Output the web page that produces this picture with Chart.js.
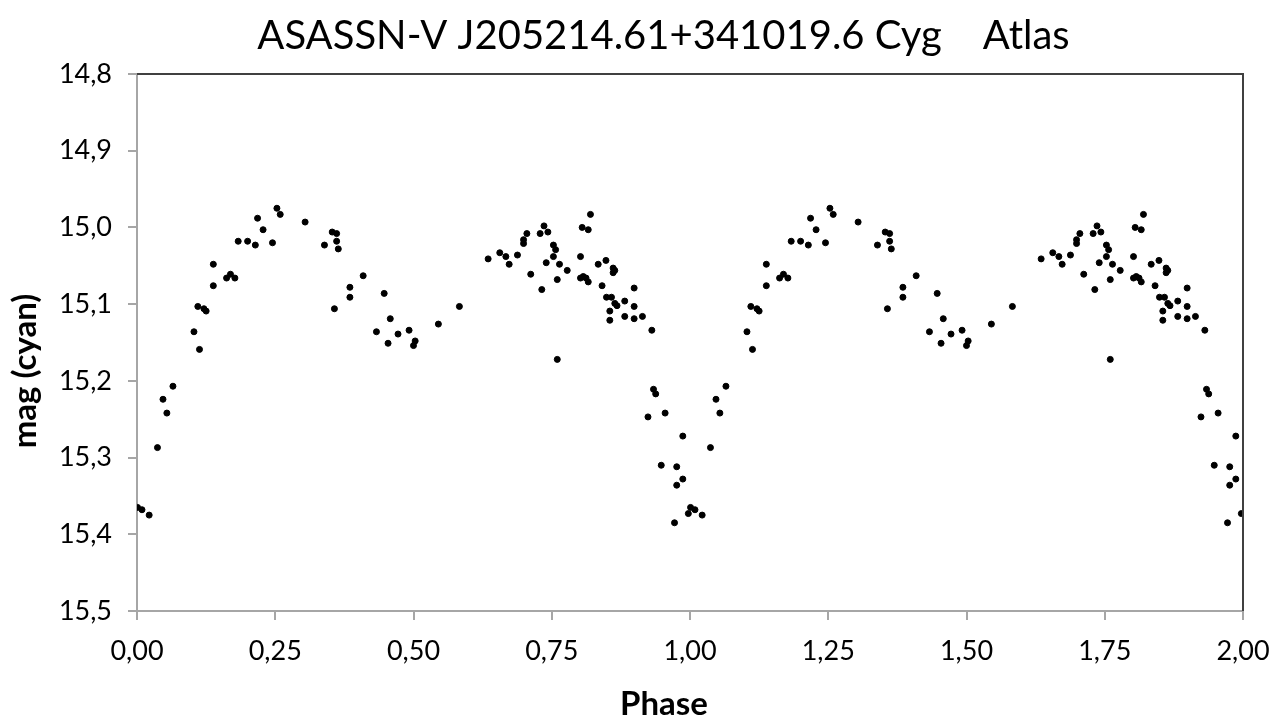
<!DOCTYPE html>
<html>
<head>
<meta charset="utf-8">
<title>ASASSN-V J205214.61+341019.6 Cyg</title>
<script src="https://cdn.jsdelivr.net/npm/chart.js@4.4.0/dist/chart.umd.min.js"></script>
<style>
  html, body { margin: 0; padding: 0; background: #fff; }
  #wrap { width: 1286px; height: 720px; }
</style>
</head>
<body>
<div id="wrap"><canvas id="lc" width="1286" height="720"></canvas></div>
<script>
// phase (0..1) and magnitude
var phase = [
    0.001, 0.009, 0.022, 0.037, 0.047, 0.054, 0.065, 0.103, 0.113, 0.110,
    0.121, 0.125, 0.138, 0.138, 0.162, 0.169, 0.177, 0.183, 0.200, 0.214,
    0.218, 0.228, 0.245, 0.253, 0.259, 0.304, 0.339, 0.353, 0.361, 0.361,
    0.364, 0.357, 0.385, 0.385, 0.409, 0.447, 0.433, 0.458, 0.454, 0.472,
    0.492, 0.503, 0.500, 0.545, 0.583, 0.635, 0.656, 0.667, 0.673, 0.688,
    0.699, 0.699, 0.705, 0.712, 0.729, 0.736, 0.743, 0.732, 0.740, 0.753,
    0.757, 0.753, 0.764, 0.760, 0.778, 0.760, 0.820, 0.805, 0.816, 0.802,
    0.802, 0.807, 0.812, 0.816, 0.834, 0.848, 0.841, 0.861, 0.864, 0.861,
    0.849, 0.858, 0.864, 0.868, 0.855, 0.855, 0.882, 0.882, 0.899, 0.899,
    0.899, 0.914, 0.931, 0.934, 0.938, 0.924, 0.955, 0.987, 0.948, 0.976,
    0.987, 0.976, 0.997, 0.972
];
var mag = [
    15.365, 15.368, 15.375, 15.287, 15.224, 15.242, 15.207, 15.136, 15.159, 15.103,
    15.106, 15.109, 15.048, 15.076, 15.066, 15.061, 15.066, 15.018, 15.018, 15.023,
    14.988, 15.003, 15.020, 14.975, 14.983, 14.993, 15.023, 15.006, 15.008, 15.018,
    15.028, 15.106, 15.078, 15.091, 15.063, 15.086, 15.136, 15.119, 15.151, 15.139,
    15.134, 15.148, 15.154, 15.126, 15.103, 15.041, 15.033, 15.038, 15.048, 15.036,
    15.016, 15.021, 15.008, 15.061, 15.008, 14.998, 15.006, 15.081, 15.046, 15.023,
    15.029, 15.038, 15.048, 15.068, 15.056, 15.172, 14.983, 15.000, 15.003, 15.038,
    15.066, 15.064, 15.066, 15.071, 15.048, 15.043, 15.076, 15.053, 15.056, 15.059,
    15.091, 15.091, 15.099, 15.102, 15.109, 15.121, 15.096, 15.116, 15.079, 15.103,
    15.119, 15.116, 15.134, 15.211, 15.217, 15.247, 15.242, 15.272, 15.310, 15.312,
    15.328, 15.336, 15.373, 15.385
];
var xTicks = [0, 0.25, 0.5, 0.75, 1, 1.25, 1.5, 1.75, 2];
var yTicks = [14.8, 14.9, 15.0, 15.1, 15.2, 15.3, 15.4, 15.5];

// the phase diagram is shown over two cycles (phase and phase + 1)
var points = [];
for (var c = 0; c < 2; c++) {
    for (var i = 0; i < phase.length; i++) {
        points.push({ x: phase[i] + c, y: mag[i] });
    }
}

var fam = 'Lato, "Noto Sans", sans-serif';

// dark top/right frame, axis titles placed like the Excel original
var frame = {
    id: 'frame',
    afterLayout: function(chart) {
        // the original title sits a bit right of the canvas centre
        chart.titleBlock.left += 42;
        chart.titleBlock.right += 42;
    },
    afterDraw: function(chart) {
        var a = chart.chartArea, ctx = chart.ctx;
        ctx.save();
        ctx.strokeStyle = '#404040';
        ctx.lineWidth = 2;
        ctx.beginPath();
        ctx.moveTo(a.left, a.top);
        ctx.lineTo(a.right, a.top);
        ctx.lineTo(a.right, a.bottom);
        ctx.stroke();

        ctx.fillStyle = '#000';
        ctx.font = 'bold 33px ' + fam;
        ctx.textAlign = 'center';
        ctx.textBaseline = 'middle';
        ctx.fillText('Phase', 664, 704);
        ctx.translate(25, 371);
        ctx.rotate(-Math.PI / 2);
        ctx.fillText('mag (cyan)', 0, 0);
        ctx.restore();
    }
};

var lc = new Chart(document.getElementById('lc'), {
    type: 'scatter',
    data: {
        datasets: [{
            data: points,
            backgroundColor: '#000',
            borderColor: '#000',
            pointRadius: 3,
            pointHoverRadius: 3
        }]
    },
    options: {
        responsive: false,
        animation: false,
        events: [],
        layout: { padding: { left: 0, right: 43, top: 0, bottom: 0 } },
        plugins: {
            legend: { display: false },
            tooltip: { enabled: false },
            title: {
                display: true,
                text: 'ASASSN-V J205214.61+341019.6 Cyg    Atlas',
                color: '#000',
                font: { family: fam, size: 40, weight: 'normal', lineHeight: 1.2 },
                padding: { top: 12, bottom: 14 }
            }
        },
        scales: {
            x: {
                type: 'linear',
                min: 0,
                max: 2,
                afterFit: function(s) {
                    s.height = 109;
                    s.paddingLeft = 0;
                    s.paddingRight = 0;
                },
                afterBuildTicks: function(s) { s.ticks = xTicks.map(function(v) { return { value: v }; }); },
                ticks: {
                    color: '#000',
                    font: { family: fam, size: 27 },
                    padding: 15,
                    maxRotation: 0,
                    callback: function(v) { return v.toFixed(2).replace('.', ','); }
                },
                grid: { drawOnChartArea: false, tickLength: 9, color: '#a6a6a6', lineWidth: 2 },
                border: { color: '#a6a6a6', width: 2 }
            },
            y: {
                type: 'linear',
                reverse: true,
                min: 14.8,
                max: 15.5,
                afterFit: function(s) {
                    s.width = 137;
                    s.paddingTop = 0;
                    s.paddingBottom = 0;
                },
                afterBuildTicks: function(s) { s.ticks = yTicks.map(function(v) { return { value: v }; }); },
                ticks: {
                    color: '#000',
                    font: { family: fam, size: 27 },
                    padding: 16,
                    callback: function(v) { return v.toFixed(1).replace('.', ','); }
                },
                grid: { drawOnChartArea: false, tickLength: 9, color: '#a6a6a6', lineWidth: 2 },
                border: { color: '#a6a6a6', width: 2 }
            }
        }
    },
    plugins: [frame]
});
</script>
</body>
</html>
